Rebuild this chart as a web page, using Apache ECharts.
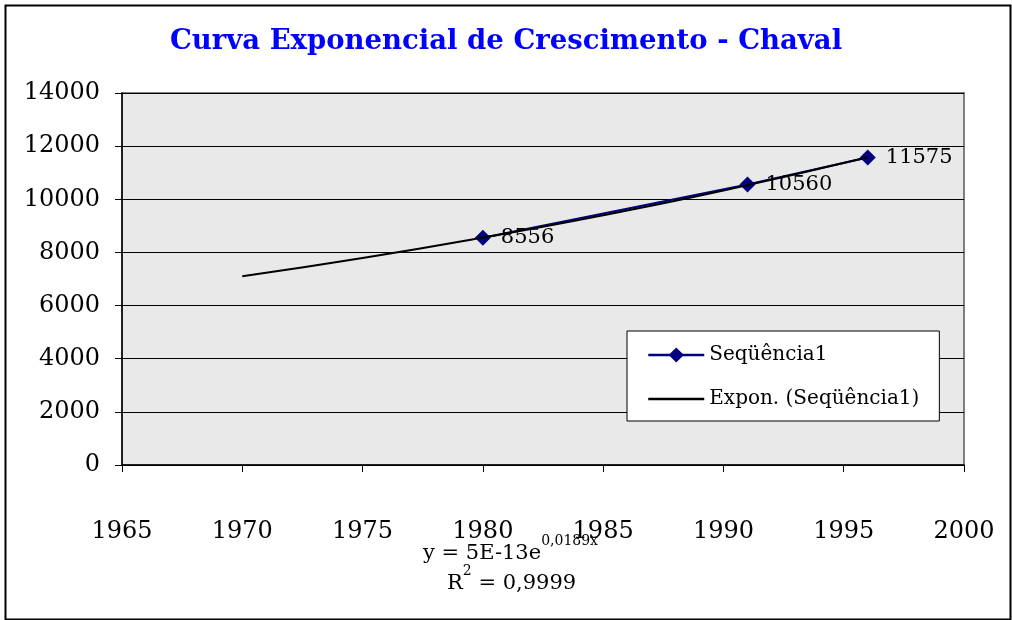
<!DOCTYPE html>
<html>
<head>
<meta charset="utf-8">
<script src="https://cdn.jsdelivr.net/npm/echarts@6/dist/echarts.min.js"></script>
<style>
  html, body { margin: 0; padding: 0; background: #fff; }
  #chart { width: 1012px; height: 620px; }
</style>
</head>
<body>
<div id="chart"></div>
<script>
// dados
var anos = [1980, 1991, 1996];
var populacao = [8556, 10560, 11575];
// linha de tendência exponencial, lida ponto a ponto no gráfico
var tendAnos = [1970, 1975, 1980, 1985, 1990, 1996];
var tendValores = [7100, 7790, 8560, 9400, 10330, 11580];

var serif = '"DejaVu Serif", serif';
var chart = echarts.init(document.getElementById('chart'));

chart.setOption({
  animation: false,
  title: {
    text: 'Curva Exponencial de Crescimento - Chaval',
    left: 'center',
    top: 23,
    textStyle: { color: '#0000ff', fontFamily: serif, fontWeight: 'bold', fontSize: 27.5 }
  },
  grid: {
    left: 122, right: 48, top: 93, bottom: 155,
    show: true, backgroundColor: '#e9e9e9', borderColor: '#808080', borderWidth: 2
  },
  legend: {
    orient: 'vertical',
    left: 627, top: 331,
    width: 312,
    padding: [14, 20, 12, 20],
    itemGap: 24,
    itemWidth: 56, itemHeight: 19,
    backgroundColor: '#ffffff',
    borderColor: '#000', borderWidth: 1,
    textStyle: { fontFamily: serif, fontSize: 20, color: '#000' },
    data: [
      { name: 'Seqüência1', lineStyle: { width: 2.5 } },
      { name: 'Expon. (Seqüência1)', itemStyle: { opacity: 0 }, lineStyle: { width: 2.5 } }
    ]
  },
  xAxis: {
    type: 'value', min: 1965, max: 2000, interval: 5,
    axisLine: { lineStyle: { color: '#000', width: 1.5 } },
    axisTick: { show: true, length: 7, lineStyle: { color: '#000' } },
    splitLine: { show: false },
    axisLabel: { margin: 55, fontFamily: serif, fontSize: 24, color: '#000',
      formatter: function (v) { return String(v); } }
  },
  yAxis: {
    type: 'value', min: 0, max: 14000, interval: 2000,
    axisLine: { show: true, lineStyle: { color: '#000', width: 1.5 } },
    axisTick: { show: true, length: 7, lineStyle: { color: '#000' } },
    splitLine: { show: true, lineStyle: { color: '#000', width: 1 } },
    axisLabel: { margin: 22, fontFamily: serif, fontSize: 24, color: '#000',
      formatter: function (v) { return String(v); } }
  },
  series: [
    {
      name: 'Seqüência1',
      type: 'line',
      data: anos.map(function (a, i) { return [a, populacao[i]]; }),
      symbol: 'diamond', symbolSize: 16,
      lineStyle: { color: '#000080', width: 2 },
      itemStyle: { color: '#000080' },
      label: {
        show: true, position: 'right', distance: 10,
        fontFamily: serif, fontSize: 21, color: '#000',
        formatter: function (p) { return String(p.value[1]); }
      },
      z: 3
    },
    {
      name: 'Expon. (Seqüência1)',
      type: 'line',
      data: tendAnos.map(function (a, i) { return [a, tendValores[i]]; }),
      smooth: true, symbol: 'none',
      lineStyle: { color: '#000', width: 2 },
      itemStyle: { color: '#000' },
      z: 4
    }
  ],
  graphic: [
    {
      type: 'rect', left: 3, top: 3, z: 100, silent: true,
      shape: { width: 1005, height: 614 },
      style: { fill: 'none', stroke: '#000', lineWidth: 2 }
    },
    {
      type: 'text', left: 423, top: 534,
      style: {
        text: '{n|y = 5E-13e}{s|0,0189x}',
        rich: {
          n: { fontFamily: serif, fontSize: 21, color: '#000', verticalAlign: 'bottom' },
          s: { fontFamily: serif, fontSize: 14, color: '#000', verticalAlign: 'top', padding: [0, 0, 16, 0] }
        }
      }
    },
    {
      type: 'text', left: 447, top: 564,
      style: {
        text: '{n|R}{s|2}{n| = 0,9999}',
        rich: {
          n: { fontFamily: serif, fontSize: 21, color: '#000', verticalAlign: 'bottom' },
          s: { fontFamily: serif, fontSize: 14, color: '#000', verticalAlign: 'top', padding: [0, 0, 16, 0] }
        }
      }
    }
  ]
});
</script>
</body>
</html>
